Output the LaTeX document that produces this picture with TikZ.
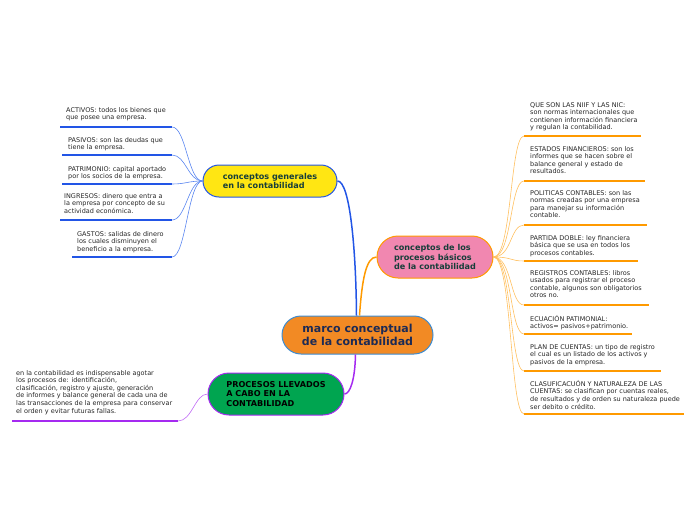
\documentclass[tikz,border=0pt]{standalone}
\usepackage{fontspec}
\setmainfont{DejaVu Sans}
\definecolor{cOrange}{HTML}{F28A24}
\definecolor{cYellow}{HTML}{FFE613}
\definecolor{cPink}{HTML}{F187B0}
\definecolor{cGreen}{HTML}{00A550}
\definecolor{cBlue}{HTML}{2255E6}
\definecolor{cBlueL}{HTML}{5A86F0}
\definecolor{cOrLine}{HTML}{FF9A00}
\definecolor{cOrLineL}{HTML}{FFC060}
\definecolor{cPurple}{HTML}{A52AF0}
\definecolor{cCenterB}{HTML}{3C8CD2}
\definecolor{cNavy}{HTML}{1B2A55}
\definecolor{cTeal}{HTML}{173E3A}
\tikzset{
  mainbox/.style={draw, line width=1pt, rounded corners=#1, font=\fontsize{8.1}{9.8}\selectfont\bfseries, align=left, inner sep=0pt},
  leaf/.style={anchor=north west, inner sep=0pt, align=left, font=\fontsize{6.5}{7.6}\selectfont, text=black!85},
  bline/.style={cBlue, line width=1.5pt},
  oline/.style={cOrLine, line width=1.5pt},
  pline/.style={cPurple, line width=1.5pt},
  bconn/.style={cBlueL, line width=0.6pt},
  oconn/.style={cOrLineL, line width=0.6pt},
}
\begin{document}
\begin{tikzpicture}[x=1pt,y=-1pt]
\useasboundingbox (0,0) rectangle (696,520);
% main nodes
\node[mainbox=19pt, fill=cOrange, draw=cCenterB, minimum width=151pt, minimum height=38pt, align=center, text=cNavy, font=\fontsize{11}{13.5}\selectfont\bfseries] (center) at (357.5,335) {marco conceptual\\de la contabilidad};
\node[mainbox=16pt, fill=cYellow, draw=cBlue, minimum width=134pt, minimum height=32pt, text=cTeal] (gen) at (270,181) {conceptos generales\\en la contabilidad};
\node[mainbox=21pt, fill=cPink, draw=cOrLine, minimum width=116pt, minimum height=42pt, text=cTeal] (bas) at (435,257) {conceptos de los\\procesos básicos\\de la contabilidad};
\node[mainbox=21pt, fill=cGreen, draw=cPurple, minimum width=136pt, minimum height=42pt, text=black] (proc) at (276,394) {PROCESOS LLEVADOS\\A CABO EN LA\\CONTABILIDAD};

% main connectors
\draw[cBlue, line width=1.5pt] ([xshift=-1pt]center.north) .. controls (356,250) and (350,181) .. (gen.east);
\draw[cOrLine, line width=1.5pt] ([xshift=2pt]center.north) .. controls (362,280) and (366,257) .. (bas.west);
\draw[cPurple, line width=1.5pt] ([xshift=-2pt]center.south) .. controls (355,380) and (350,394) .. (proc.east);

% left leaves
\node[leaf] (l1) at (66,107) {ACTIVOS: todos los bienes que\\que posee una empresa.};
\node[leaf] (l2) at (68,137) {PASIVOS: son las deudas que\\tiene la empresa.};
\node[leaf] (l3) at (68,166) {PATRIMONIO: capital aportado\\por los socios de la empresa.};
\node[leaf] (l4) at (64,193) {INGRESOS: dinero que entra a\\la empresa por concepto de su\\actividad económica.};
\node[leaf] (l5) at (77,231) {GASTOS: salidas de dinero\\los cuales disminuyen el\\beneficio a la empresa.};
\coordinate (l1a) at (60,127); \coordinate (l1b) at (172,127);
\coordinate (l2a) at (62,155); \coordinate (l2b) at (172,155);
\coordinate (l3a) at (62,184); \coordinate (l3b) at (172,184);
\coordinate (l4a) at (60,220); \coordinate (l4b) at (172,220);
\coordinate (l5a) at (72,257); \coordinate (l5b) at (172,257);
\foreach \i in {1,...,5}{
  \draw[bline] (l\i a) -- (l\i b);
}
\foreach \i/\y in {1/127,2/155,3/184,4/220,5/257}{
  \draw[bconn] (gen.west) .. controls (188,181) and (186,\y) .. (l\i b);
}

% right leaves
\node[leaf] (r1) at (530,102) {QUE SON LAS NIIF Y LAS NIC:\\son normas internacionales que\\contienen información financiera\\y regulan la contabilidad.};
\node[leaf] (r2) at (530,146) {ESTADOS FINANCIEROS: son los\\informes que se hacen sobre el\\balance general y estado de\\resultados.};
\node[leaf] (r3) at (530,190) {POLITICAS CONTABLES: son las\\normas creadas por una empresa\\para manejar su información\\contable.};
\node[leaf] (r4) at (530,235) {PARTIDA DOBLE: ley financiera\\básica que se usa en todos los\\procesos contables.};
\node[leaf] (r5) at (530,270) {REGISTROS CONTABLES: libros\\usados para registrar el proceso\\contable, algunos son obligatorios\\otros no.};
\node[leaf] (r6) at (530,315) {ECUACIÓN PATIMONIAL:\\activos= pasivos+patrimonio.};
\node[leaf] (r7) at (530,344) {PLAN DE CUENTAS: un tipo de registro\\el cual es un listado de los activos y\\pasivos de la empresa.};
\node[leaf] (r8) at (530,380) {CLASUFICACUÓN Y NATURALEZA DE LAS\\CUENTAS: se clasifican por cuentas reales,\\de resultados y de orden su naturaleza puede\\ser debito o crédito.};
\coordinate (r1a) at (524,136); \coordinate (r1b) at (641,136);
\coordinate (r2a) at (524,181); \coordinate (r2b) at (645,181);
\coordinate (r3a) at (524,225); \coordinate (r3b) at (647,225);
\coordinate (r4a) at (524,261); \coordinate (r4b) at (638,261);
\coordinate (r5a) at (524,305); \coordinate (r5b) at (649,305);
\coordinate (r6a) at (524,334); \coordinate (r6b) at (632,334);
\coordinate (r7a) at (524,371); \coordinate (r7b) at (661,371);
\coordinate (r8a) at (524,414); \coordinate (r8b) at (684,414);
\foreach \i in {1,...,8}{
  \draw[oline] (r\i a) -- (r\i b);
}
\foreach \i/\y in {1/136,2/181,3/225,4/261,5/305,6/334,7/371,8/414}{
  \draw[oconn] (bas.east) .. controls (512,257) and (510,\y) .. (r\i a);
}

% bottom-left leaf
\node[leaf] (b1) at (16,370) {en la contabilidad es indispensable agotar\\los procesos de: identificación,\\clasificación, registro y ajuste, generación\\de informes y balance general de cada una de\\las transacciones de la empresa para conservar\\el orden y evitar futuras fallas.};
\coordinate (b1a) at (12,421); \coordinate (b1b) at (178,421);
\draw[pline] (b1a) -- (b1b);
\draw[cPurple!70, line width=0.6pt] (proc.west) .. controls (195,394) and (192,421) .. (b1b);
\end{tikzpicture}
\end{document}
